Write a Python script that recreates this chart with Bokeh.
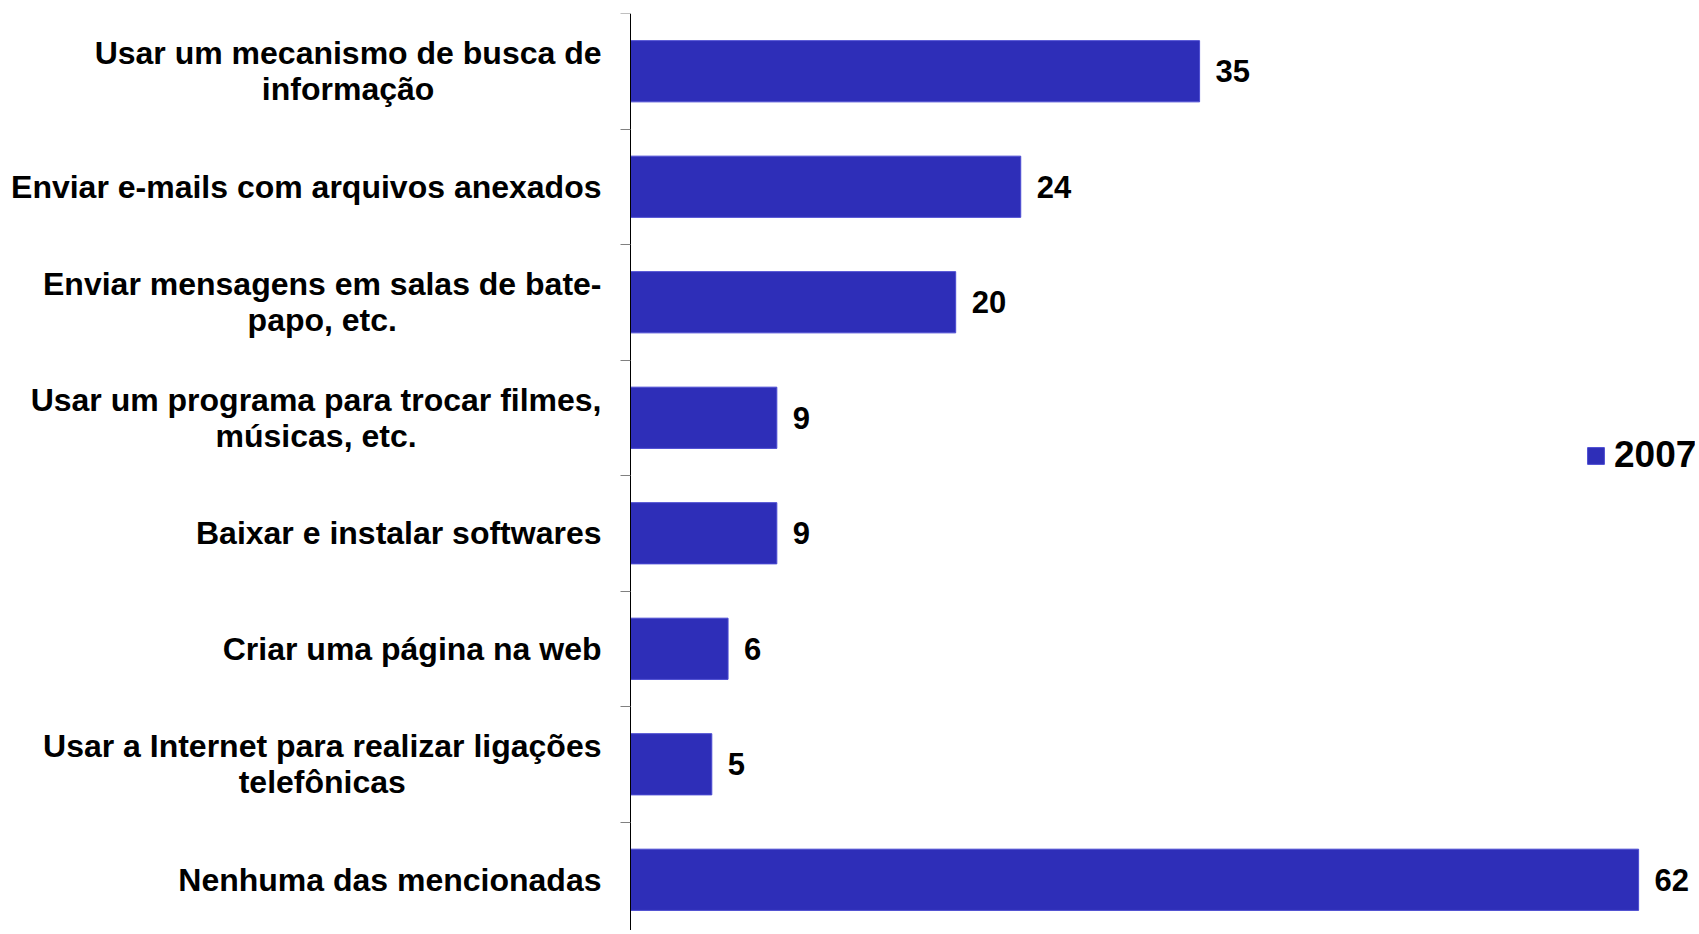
from bokeh.plotting import figure
from bokeh.models import (ColumnDataSource, Range1d, FixedTicker, LabelSet,
                          LinearAxis, Legend, LegendItem)
from bokeh.core.properties import value
from bokeh.embed import file_html
from bokeh.resources import INLINE

categories = [
    "Usar um mecanismo de busca de\ninformação",
    "Enviar e-mails com arquivos anexados",
    "Enviar mensagens em salas de bate-\npapo, etc.",
    "Usar um programa para trocar filmes,\nmúsicas, etc.",
    "Baixar e instalar softwares",
    "Criar uma página na web",
    "Usar a Internet para realizar ligações\ntelefônicas",
    "Nenhuma das mencionadas",
]
values_2007 = [35, 24, 20, 9, 9, 6, 5, 62]
series_name = "2007"

n = len(categories)
ypos = [n - i - 0.5 for i in range(n)]
src = ColumnDataSource(dict(y=ypos, v=values_2007, x0=[0] * n,
                            lab=[str(v) for v in values_2007], cat=categories))

FONT = "Liberation Sans"
BAR = "#2E2EB8"
PX_PER_UNIT = 16.26
AXIS_PX = 630
W, H = 1695, 930

p = figure(width=W, height=H, output_backend="svg", toolbar_location=None,
           x_range=Range1d(-AXIS_PX / PX_PER_UNIT, (W - AXIS_PX) / PX_PER_UNIT),
           y_range=Range1d(0.061, n),
           min_border_left=0, min_border_right=0, min_border_top=13,
           min_border_bottom=0, x_axis_location=None, y_axis_location=None)
p.outline_line_color = None
p.grid.visible = False
p.background_fill_color = "white"

r = p.hbar(y="y", right="v", left=0, height=0.53, source=src,
           fill_color=BAR, line_color="#4B4BD2", line_width=1)

# category labels: block right-anchored, lines centred
p.text(x="x0", y="y", text="cat", source=src, x_offset=-29,
       anchor=value("center_right"), text_align=value("center"),
       text_baseline=value("middle"),
       text_font=value(FONT), text_font_style="bold",
       text_font_size=value("32px"), text_color="black",
       text_line_height=1.0)

labels = LabelSet(x="v", y="y", text="lab", source=src, x_offset=16,
                  text_baseline="middle", text_align="left",
                  text_font=value(FONT), text_font_style="bold",
                  text_font_size="31px", text_color="black")
p.add_layout(labels)

ax = LinearAxis(fixed_location=0,
                ticker=FixedTicker(ticks=[], minor_ticks=list(range(n + 1))))
ax.major_label_text_font_size = "0px"
ax.major_tick_line_color = None
ax.major_tick_out = 0
ax.major_tick_in = 0
ax.minor_tick_line_color = "#808080"
ax.minor_tick_out = 10
ax.minor_tick_in = 0
ax.axis_line_color = "black"
ax.axis_line_width = 1
p.add_layout(ax, "left")

legend = Legend(items=[LegendItem(label=series_name, renderers=[r])],
                location=(AXIS_PX + 955, 454), orientation="vertical",
                glyph_width=21, glyph_height=21, label_standoff=8,
                label_text_font=FONT, label_text_font_style="bold",
                label_text_font_size="37px", label_text_color="black",
                padding=0, margin=0,
                border_line_color=None, background_fill_alpha=0)
p.add_layout(legend)

open("out.html", "w").write(file_html(p, INLINE))
